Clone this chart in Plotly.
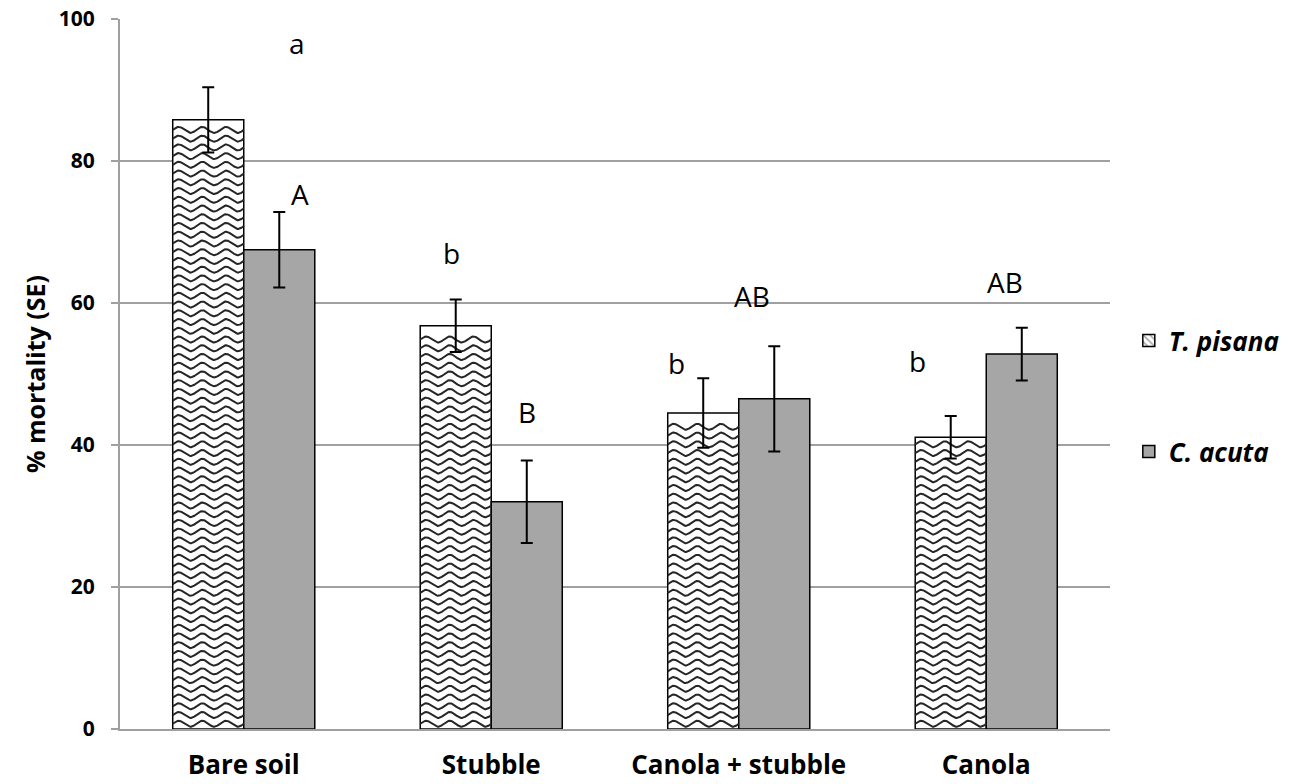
import numpy as np
import plotly.graph_objects as go

# --- data -------------------------------------------------------------
categories = ["Bare soil", "Stubble", "Canola + stubble", "Canola"]
pisana_mean = [85.8, 56.8, 44.5, 41.1]
pisana_se = [4.6, 3.7, 4.9, 3.0]
acuta_mean = [67.5, 32.0, 46.5, 52.8]
acuta_se = [5.3, 5.8, 7.4, 3.7]
pisana_letters = ["a", "b", "b", "b"]
acuta_letters = ["A", "B", "AB", "AB"]

# --- layout constants ------------------------------------------------
FONT = "'Open Sans', sans-serif"
BAR_W = 0.287               # width of each bar in category units
WAVE_STEP = 1.23            # vertical spacing of the wavy fill lines (y units)
WAVE_AMP = 0.42             # wave amplitude (y units)
WAVE_PERIOD = BAR_W / 3.0   # three waves across each bar
GREY = "#a6a6a6"
AXIS_GREY = "#a0a0a0"

# letter label placement: (x offset from category centre, y position)
pisana_letter_pos = [(0.215, 96.6), (-0.16, 67.0), (-0.25, 51.5), (-0.276, 51.9)]
acuta_letter_pos = [(0.227, 75.4), (0.144, 44.7), (0.054, 61.0), (0.076, 63.0)]

xs = np.arange(len(categories))

fig = go.Figure()

# T. pisana bars (white, outlined) - wavy fill drawn on top
fig.add_trace(go.Bar(
    x=xs, y=pisana_mean, width=BAR_W, offset=-BAR_W,
    marker=dict(color="white", line=dict(color="black", width=1.5)),
    showlegend=False, hoverinfo="skip",
))

# C. acuta bars
fig.add_trace(go.Bar(
    x=xs, y=acuta_mean, width=BAR_W, offset=0,
    marker=dict(color=GREY, line=dict(color="black", width=1.5)),
    error_y=dict(type="data", array=acuta_se, color="black", thickness=2, width=6),
    showlegend=False, hoverinfo="skip",
))

# wavy fill pattern for T. pisana bars
wx, wy = [], []
for i, v in zip(xs, pisana_mean):
    left, right = i - BAR_W, i
    t = np.linspace(left, right, 90)
    level = WAVE_STEP * 0.6
    while level + WAVE_AMP < v - 0.3:
        wx.extend(list(t) + [None])
        wy.extend(list(level + WAVE_AMP * np.sin(2 * np.pi * (t - left) / WAVE_PERIOD)) + [None])
        level += WAVE_STEP
fig.add_trace(go.Scatter(
    x=wx, y=wy, mode="lines", line=dict(color="#262626", width=2),
    showlegend=False, hoverinfo="skip",
))

# T. pisana error bars on top of the fill
fig.add_trace(go.Scatter(
    x=xs - BAR_W / 2, y=pisana_mean, mode="markers",
    marker=dict(size=1, color="rgba(0,0,0,0)"),
    error_y=dict(type="data", array=pisana_se, color="black", thickness=2, width=6),
    showlegend=False, hoverinfo="skip",
))

# legend entries
fig.add_trace(go.Bar(
    x=[None], y=[None], name="<b><i>T. pisana</i></b>", legendgroup="p",
    marker=dict(color="white", line=dict(color="black", width=1.5),
                pattern=dict(shape="\\", fgcolor="#333333", bgcolor="white", size=6, solidity=0.3)),
))
fig.add_trace(go.Bar(
    x=[None], y=[None], name="<b><i>C. acuta</i></b>", legendgroup="a",
    marker=dict(color=GREY, line=dict(color="black", width=1.5)),
))

# significance letters
for i in xs:
    for letters, pos in ((pisana_letters, pisana_letter_pos), (acuta_letters, acuta_letter_pos)):
        dx, yv = pos[i]
        fig.add_annotation(
            x=i + dx, y=yv, text=letters[i], showarrow=False,
            font=dict(family=FONT, size=28, color="black"),
            xanchor="center", yanchor="middle",
        )

fig.update_layout(
    width=1295, height=784,
    margin=dict(l=120, r=185, t=19, b=55, autoexpand=False),
    paper_bgcolor="white", plot_bgcolor="white",
    font=dict(family=FONT, color="black"),
    barmode="overlay",
    legend=dict(
        x=1.019, xanchor="left", y=0.58, yanchor="top",
        font=dict(family=FONT, size=26, color="black"),
        tracegroupgap=74, itemwidth=30, traceorder="grouped",
        bgcolor="rgba(0,0,0,0)",
    ),
    xaxis=dict(
        range=[-0.5, 3.5], tickvals=list(xs), ticktext=[f"<b>{c}</b>" for c in categories],
        tickfont=dict(family=FONT, size=26, color="black"),
        showgrid=False, zeroline=False, showline=True, linecolor=AXIS_GREY, linewidth=2,
        ticks="", ticklabelstandoff=12, automargin=False,
    ),
    yaxis=dict(
        range=[0, 100], tickvals=[0, 20, 40, 60, 80, 100],
        tickfont=dict(family=FONT, size=21, color="black", weight="bold"),
        showgrid=True, gridcolor=AXIS_GREY, gridwidth=2,
        zeroline=False, showline=True, linecolor=AXIS_GREY, linewidth=2,
        ticks="outside", ticklen=7, tickcolor=AXIS_GREY, tickwidth=2,
        ticklabelstandoff=12, automargin=False,
        title=dict(text="<b>% mortality (SE)</b>", font=dict(family=FONT, size=25, color="black"),
                   standoff=6),
    ),
)

fig.write_html("out.html")
